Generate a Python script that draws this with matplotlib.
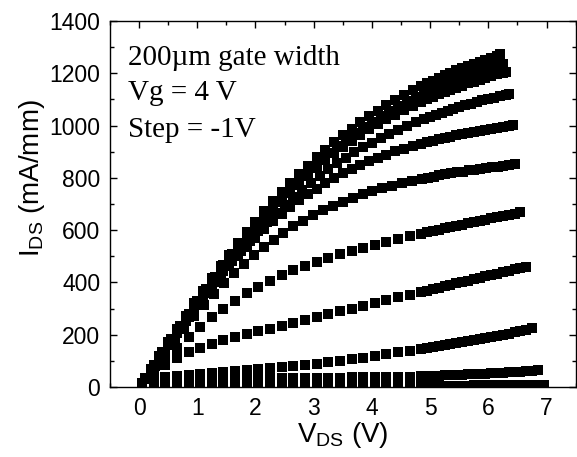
import matplotlib
matplotlib.use("Agg")
import matplotlib.pyplot as plt
from matplotlib.ticker import MultipleLocator

plt.rcParams['font.family'] = ['Liberation Sans', 'DejaVu Sans']
plt.rcParams['mathtext.fontset'] = 'custom'
plt.rcParams['mathtext.rm'] = 'Liberation Sans'
plt.rcParams['mathtext.it'] = 'Liberation Sans'

# Vds sweep points (V), shared by several gate voltages
vds_head_a = [0.05, 0.20, 0.35, 0.50, 0.65, 0.80, 0.95, 1.10, 1.25, 1.40, 1.55, 1.70, 1.85,
              2.00, 2.15, 2.30, 2.45, 2.60, 2.75, 2.90, 3.05, 3.20, 3.35, 3.50, 3.65, 3.80,
              3.95, 4.10, 4.25, 4.40, 4.55, 4.70, 4.85]
vds_head_a2 = [0.10, 0.25, 0.40, 0.55, 0.70, 0.85, 1.00, 1.15, 1.30, 1.45, 1.60, 1.75, 1.90,
               2.05, 2.20, 2.35, 2.50, 2.65, 2.80, 2.95, 3.10, 3.25, 3.40, 3.55, 3.70, 3.85,
               4.00, 4.15, 4.30, 4.45, 4.60, 4.75, 4.90]
vds_head_m1 = [0.10, 0.27, 0.44, 0.61, 0.78, 0.95, 1.12, 1.29, 1.46, 1.63, 1.80, 1.97, 2.14,
               2.31, 2.48, 2.65, 2.82, 2.99, 3.16, 3.33, 3.50, 3.67, 3.84, 4.01, 4.18, 4.35,
               4.52, 4.69, 4.86]
vds_head_b = [0.05, 0.25, 0.45, 0.65, 0.85, 1.05, 1.25, 1.45, 1.65, 1.85, 2.05, 2.25, 2.45,
              2.65, 2.85, 3.05, 3.25, 3.45, 3.65, 3.85, 4.05, 4.25, 4.45, 4.65, 4.85]

# Vg = 4 V
vds_tail_4 = [4.95, 5.05, 5.15, 5.25, 5.35, 5.45, 5.55, 5.65, 5.75, 5.85, 5.95, 6.05, 6.15, 6.20]
ids_4 = [17, 69, 120, 171, 221, 271, 320, 368, 415, 461, 506, 549, 591, 632, 672, 710, 746,
         781, 815, 847, 878, 908, 936, 962, 988, 1012, 1035, 1057, 1078, 1098, 1116, 1134, 1151,
         1162, 1172, 1182, 1192, 1201, 1211, 1220, 1228, 1236, 1244, 1252, 1260, 1267, 1273]
# Vg = 3 V
vds_tail_3 = [5.00, 5.10, 5.20, 5.30, 5.40, 5.50, 5.60, 5.70, 5.80, 5.90, 6.00, 6.10, 6.20, 6.25]
ids_3 = [34, 84, 134, 184, 233, 281, 329, 375, 421, 466, 509, 551, 592, 631, 669, 706, 741,
         774, 807, 837, 867, 894, 921, 947, 971, 994, 1015, 1036, 1056, 1074, 1092, 1109, 1124,
         1135, 1144, 1154, 1163, 1172, 1180, 1189, 1196, 1204, 1212, 1219, 1226, 1233, 1236]
# Vg = 2 V
vds_tail_2 = [4.95, 5.05, 5.15, 5.25, 5.35, 5.45, 5.55, 5.65, 5.75, 5.85, 5.95, 6.05, 6.15,
              6.25, 6.30]
ids_2 = [17, 66, 116, 165, 214, 262, 309, 355, 401, 445, 488, 529, 570, 608, 646, 682, 716,
         749, 781, 811, 840, 868, 894, 918, 942, 964, 985, 1005, 1024, 1042, 1059, 1076, 1091,
         1101, 1110, 1119, 1128, 1137, 1145, 1153, 1161, 1168, 1175, 1182, 1189, 1196, 1202, 1205]
# Vg = 1 V
vds_tail_1 = [5.00, 5.10, 5.20, 5.30, 5.40, 5.50, 5.60, 5.70, 5.80, 5.90, 6.00, 6.10, 6.20,
              6.30, 6.35]
ids_1 = [32, 80, 128, 176, 223, 269, 314, 358, 401, 443, 483, 522, 560, 596, 631, 664, 695,
         726, 754, 781, 807, 832, 855, 877, 897, 917, 935, 953, 969, 984, 999, 1013, 1026,
         1034, 1042, 1049, 1057, 1064, 1071, 1077, 1084, 1090, 1096, 1101, 1107, 1112, 1117, 1122]
# Vg = 0 V
vds_tail_0 = [4.95, 5.05, 5.15, 5.25, 5.35, 5.45, 5.55, 5.65, 5.75, 5.85, 5.95, 6.05, 6.15,
              6.25, 6.35, 6.42]
ids_0 = [16, 65, 113, 161, 208, 254, 299, 342, 384, 425, 464, 501, 537, 571, 603, 633, 661,
         688, 714, 737, 759, 780, 799, 817, 833, 849, 863, 877, 889, 901, 911, 922, 931,
         937, 942, 948, 953, 958, 962, 967, 971, 975, 979, 983, 987, 990, 994, 998, 1003]
# Vg = -1 V
vds_tail_m1 = [4.96, 5.06, 5.16, 5.26, 5.36, 5.46, 5.56, 5.66, 5.76, 5.86, 5.96, 6.06, 6.16,
               6.26, 6.36, 6.46]
ids_m1 = [30, 80, 129, 178, 225, 271, 315, 357, 397, 435, 470, 503, 534, 563, 589, 614, 636,
          657, 676, 693, 709, 723, 737, 749, 760, 770, 780, 789, 797,
          801, 805, 809, 813, 817, 821, 824, 828, 831, 834, 837, 840, 842, 845, 848, 852]
# Vg = -2 V
vds_tail_m2 = [4.95, 5.05, 5.15, 5.25, 5.35, 5.45, 5.55, 5.65, 5.75, 5.85, 5.95, 6.05, 6.15,
               6.25, 6.35, 6.45, 6.55]
ids_m2 = [12, 58, 104, 148, 190, 230, 266, 300, 330, 358, 383, 406, 427, 446, 463, 479, 494,
          507, 520, 533, 544, 555, 566, 577, 587,
          592, 597, 602, 607, 611, 616, 621, 626, 631, 635, 640, 645, 649, 654, 659, 663, 668]
# Vg = -3 V
vds_tail_m3 = [4.95, 5.05, 5.15, 5.25, 5.35, 5.45, 5.55, 5.65, 5.75, 5.85, 5.95, 6.05, 6.15,
               6.25, 6.35, 6.45, 6.55, 6.65]
ids_m3 = [8, 48, 84, 112, 134, 151, 166, 179, 191, 202, 213, 223, 234, 245, 256, 267, 278,
          289, 300, 311, 322, 332, 343, 353, 364,
          369, 374, 380, 385, 390, 396, 401, 407, 412, 417, 423, 428, 434, 439, 444, 450, 455, 460]
# Vg = -4 V
vds_tail_m4 = [4.95, 5.05, 5.15, 5.25, 5.35, 5.45, 5.55, 5.65, 5.75, 5.85, 5.95, 6.05, 6.15,
               6.25, 6.35, 6.45, 6.55, 6.65, 6.75]
ids_m4 = [6, 28, 37, 43, 47, 51, 54, 57, 61, 64, 68, 71, 75, 79, 84, 89, 95, 100, 106, 112,
          118, 125, 132, 138, 145,
          148, 152, 155, 159, 163, 167, 171, 175, 179, 183, 187, 191, 195, 200, 204, 209, 213,
          218, 224]
# Vg = -5 V
vds_tail_m5 = [4.95, 5.05, 5.15, 5.25, 5.35, 5.45, 5.55, 5.65, 5.75, 5.85, 5.95, 6.05, 6.15,
               6.25, 6.35, 6.45, 6.55, 6.65, 6.75, 6.85]
ids_m5 = [4, 14, 20, 24, 26, 28, 29, 30, 31, 32, 33, 33, 34, 34, 35, 35, 36, 36, 37, 37, 38,
          38, 39, 40, 41,
          41, 42, 43, 44, 45, 46, 47, 48, 49, 50, 51, 52, 53, 55, 56, 58, 59, 61, 63, 65]
# Vg = -6 V
vds_tail_m6 = [4.95, 5.05, 5.15, 5.25, 5.35, 5.45, 5.55, 5.65, 5.75, 5.85, 5.95, 6.05, 6.15,
               6.25, 6.35, 6.45, 6.55, 6.65, 6.75, 6.85, 6.95]
ids_m6 = [2, 3, 3, 3, 3, 3, 3, 3, 3, 3, 3, 3, 3, 4, 4, 4, 4, 4, 4, 4, 4, 4, 4, 5, 5,
          5, 5, 5, 5, 5, 5, 5, 5, 6, 6, 6, 6, 6, 6, 6, 6, 7, 7, 7, 7, 7]

curves = [
    (vds_head_a + vds_tail_4, ids_4),
    (vds_head_a2 + vds_tail_3, ids_3),
    (vds_head_a + vds_tail_2, ids_2),
    (vds_head_a2 + vds_tail_1, ids_1),
    (vds_head_a + vds_tail_0, ids_0),
    (vds_head_m1 + vds_tail_m1, ids_m1),
    (vds_head_b + vds_tail_m2, ids_m2),
    (vds_head_b + vds_tail_m3, ids_m3),
    (vds_head_b + vds_tail_m4, ids_m4),
    (vds_head_b + vds_tail_m5, ids_m5),
    (vds_head_b + vds_tail_m6, ids_m6),
]

notes = ["200\u00b5m gate width", "Vg = 4 V", "Step = -1V"]

fig = plt.figure(figsize=(5.77, 4.57), dpi=100)
ax = fig.add_axes([0.1906, 0.1532, 0.807, 0.801])

for vds, ids in curves:
    ax.plot(vds, ids, 's', color='black', markersize=6.7, markeredgewidth=0)

ax.set_xlim(-0.5, 7.5)
ax.set_ylim(0, 1400)
ax.xaxis.set_major_locator(MultipleLocator(1))
ax.xaxis.set_minor_locator(MultipleLocator(0.5))
ax.yaxis.set_major_locator(MultipleLocator(200))
ax.yaxis.set_minor_locator(MultipleLocator(100))
ax.tick_params(which='both', direction='in', top=True, right=True, labelsize=16.5, pad=7)
ax.tick_params(which='major', length=5, width=1)
ax.tick_params(which='minor', length=3, width=1)
for s in ax.spines.values():
    s.set_linewidth(1)

ax.set_xlabel(r'V$_{\rm DS}$ (V)', fontsize=20, labelpad=0)
ax.set_ylabel(r'I$_{\rm DS}$ (mA/mm)', fontsize=20)
ax.yaxis.set_label_coords(-0.135, 0.57)

baselines = [0.880, 0.784, 0.683]
for line, yb in zip(notes, baselines):
    ax.text(0.0386, yb, line, transform=ax.transAxes, fontsize=21,
            family='Liberation Serif', va='baseline', ha='left')

fig.savefig('out.png', dpi=100)
